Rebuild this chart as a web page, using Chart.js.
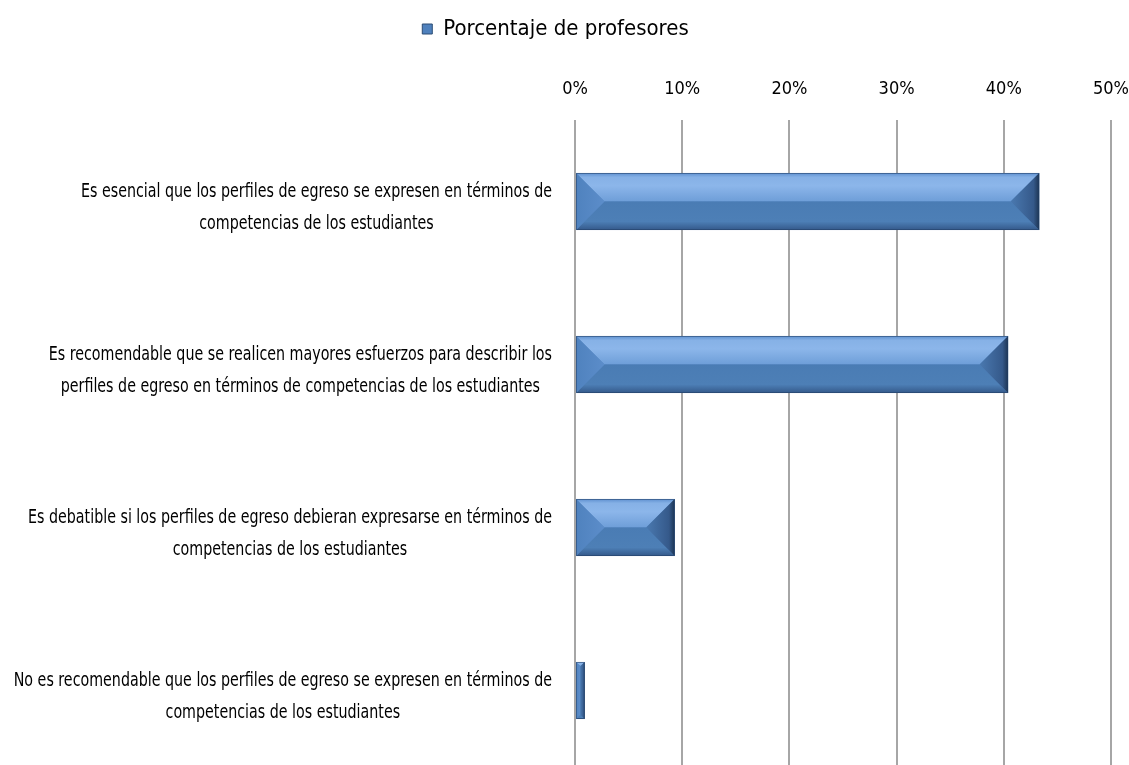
<!DOCTYPE html>
<html>
<head>
<meta charset="utf-8">
<script src="https://cdn.jsdelivr.net/npm/chart.js@4.4.1/dist/chart.umd.min.js"></script>
<style>
  html, body { margin: 0; padding: 0; background: #fff; overflow: hidden; }
  #wrap { width: 1129px; height: 772px; }
</style>
</head>
<body>
<div id="wrap"><canvas id="myChart"></canvas></div>
<script>
var FONT = '"Liberation Sans Narrow", "DejaVu Sans Condensed", "Arial Narrow", sans-serif';

// data
var categories = [
  ['Es esencial que los perfiles de egreso se expresen en términos de', 'competencias de los estudiantes'],
  ['Es recomendable que se realicen mayores esfuerzos para describir los', 'perfiles de egreso en términos de competencias de los estudiantes'],
  ['Es debatible si los perfiles de egreso debieran expresarse en términos de', 'competencias de los estudiantes'],
  ['No es recomendable que los perfiles de egreso se expresen en términos de', 'competencias de los estudiantes']
];
var seriesName = 'Porcentaje de profesores';
var values = [43.3, 40.4, 9.3, 0.9];
var tickMin = 0, tickMax = 50, tickStep = 10;

// draws the two-line category labels: block right-aligned, lines centred in it,
// squeezed horizontally to imitate a condensed face
var categoryLabels = {
  id: 'categoryLabels',
  afterDraw: function (chart) {
    var ctx = chart.ctx;
    var y = chart.scales.y;
    ctx.save();
    ctx.font = '20px ' + FONT;
    ctx.fillStyle = '#000';
    ctx.textAlign = 'center';
    ctx.textBaseline = 'middle';
    var sx = Math.min(1, 471 / ctx.measureText(categories[0][0]).width);
    categories.forEach(function (lines, i) {
      var w = sx * Math.max.apply(null, lines.map(function (l) { return ctx.measureText(l).width; }));
      var cx = chart.chartArea.left - 23 - w / 2;
      var cy = y.getPixelForValue(i) + 6;
      var lh = 32;
      lines.forEach(function (l, j) {
        ctx.save();
        ctx.translate(cx, cy + (j - (lines.length - 1) / 2) * lh);
        ctx.scale(sx, 1);
        ctx.fillText(l, 0, 0);
        ctx.restore();
      });
    });
    ctx.restore();
  }
};

// bevelled look on each bar, using the bar element geometry
var bevelBars = {
  id: 'bevelBars',
  afterDatasetsDraw: function (chart) {
    var ctx = chart.ctx;
    var meta = chart.getDatasetMeta(0);
    meta.data.forEach(function (el) {
      var p = el.getProps(['x', 'y', 'base', 'height'], true);
      var L = Math.min(p.x, p.base), R = Math.max(p.x, p.base);
      var T = p.y - p.height / 2, B = p.y + p.height / 2;
      var w = R - L, h = B - T;
      var b = Math.min(h / 2, w / 2);
      ctx.save();

      ctx.fillStyle = '#4f81bd';
      ctx.fillRect(L, T, w, h);

      // top face
      var g = ctx.createLinearGradient(0, T, 0, T + b);
      g.addColorStop(0, '#5e90cf');
      g.addColorStop(0.15, '#86b1e6');
      g.addColorStop(0.45, '#8cb6ea');
      g.addColorStop(1, '#6e9ed8');
      ctx.fillStyle = g;
      ctx.beginPath();
      ctx.moveTo(L, T); ctx.lineTo(R, T); ctx.lineTo(R - b, T + b); ctx.lineTo(L + b, T + b);
      ctx.closePath(); ctx.fill();

      // bottom face
      g = ctx.createLinearGradient(0, B - b, 0, B);
      g.addColorStop(0, '#4a7cb4');
      g.addColorStop(0.7, '#4d7fb6');
      g.addColorStop(1, '#34598a');
      ctx.fillStyle = g;
      ctx.beginPath();
      ctx.moveTo(L + b, B - b); ctx.lineTo(R - b, B - b); ctx.lineTo(R, B); ctx.lineTo(L, B);
      ctx.closePath(); ctx.fill();

      // left face
      g = ctx.createLinearGradient(L, 0, L + b, 0);
      g.addColorStop(0, '#4f82be');
      g.addColorStop(1, '#5c8dca');
      ctx.fillStyle = g;
      ctx.beginPath();
      ctx.moveTo(L, T); ctx.lineTo(L + b, T + b); ctx.lineTo(L + b, B - b); ctx.lineTo(L, B);
      ctx.closePath(); ctx.fill();

      // right face
      g = ctx.createLinearGradient(R - b, 0, R, 0);
      g.addColorStop(0, '#4a79b0');
      g.addColorStop(0.8, '#35598a');
      g.addColorStop(1, '#1d3554');
      ctx.fillStyle = g;
      ctx.beginPath();
      ctx.moveTo(R, T); ctx.lineTo(R - b, T + b); ctx.lineTo(R - b, B - b); ctx.lineTo(R, B);
      ctx.closePath(); ctx.fill();

      ctx.strokeStyle = 'rgba(35, 62, 100, 0.55)';
      ctx.lineWidth = 1;
      ctx.strokeRect(L + 0.5, T + 0.5, w - 1, h - 1);
      ctx.restore();
    });
  }
};

function build() {
  var ctx = document.getElementById('myChart').getContext('2d');
  return new Chart(ctx, {
    type: 'bar',
    data: {
      labels: categories.map(function (c) { return c.join(' '); }),
      datasets: [{
        label: seriesName,
        data: values,
        backgroundColor: '#4f81bd',
        borderColor: '#2c4d75',
        borderWidth: 0,
        barPercentage: 0.35,
        categoryPercentage: 1
      }]
    },
    plugins: [bevelBars, categoryLabels],
    options: {
      indexAxis: 'y',
      responsive: true,
      maintainAspectRatio: false,
      animation: false,
      layout: { padding: { top: 8, right: 18, left: 0, bottom: 0 } },
      plugins: {
        legend: {
          display: true,
          position: 'top',
          labels: {
            boxWidth: 10,
            boxHeight: 10,
            color: '#000',
            padding: 10,
            font: { family: FONT, size: 22 },
            generateLabels: function () {
              return [{
                text: seriesName,
                fillStyle: '#4f81bd',
                strokeStyle: '#2c4d75',
                lineWidth: 1,
                datasetIndex: 0
              }];
            }
          }
        },
        tooltip: { enabled: false }
      },
      scales: {
        x: {
          position: 'top',
          min: tickMin,
          max: tickMax,
          ticks: {
            stepSize: tickStep,
            color: '#000',
            padding: 20,
            font: { family: FONT, size: 18 },
            callback: function (v) { return v + '%'; }
          },
          grid: { color: '#a6a6a6', lineWidth: 2, drawTicks: false },
          border: { display: false },
          afterFit: function (scale) {
            var legendH = scale.chart.legend ? scale.chart.legend.height : 0;
            scale.height = 120 - 8 - legendH;
            scale.paddingLeft = 0;
            scale.paddingRight = 0;
          }
        },
        y: {
          ticks: { display: false },
          grid: { display: false },
          border: { display: false },
          afterFit: function (scale) { scale.width = 575; }
        }
      }
    }
  });
}

// make sure the narrow face is ready before Chart.js measures text
Promise.all([
  document.fonts.load('18px "Liberation Sans Narrow"'),
  document.fonts.load('22px "Liberation Sans Narrow"')
]).catch(function () {}).then(function () {
  var chart = build();
  setTimeout(function () { chart.update(); }, 50);
});
</script>
</body>
</html>
